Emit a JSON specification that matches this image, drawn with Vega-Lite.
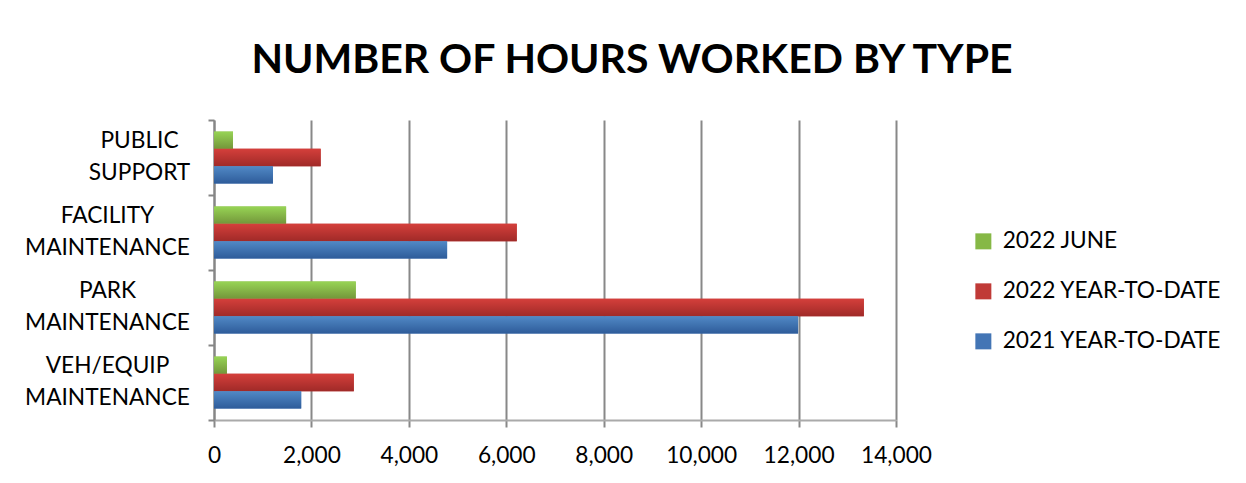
{
  "$schema": "https://vega.github.io/schema/vega-lite/v6.json",
  "autosize": "none",
  "width": 682,
  "height": 300,
  "padding": {"left": 214, "top": 120, "right": 350, "bottom": 63},
  "background": "white",
  "title": {
    "text": "NUMBER OF HOURS WORKED BY TYPE",
    "font": "Lato",
    "fontSize": 41,
    "fontWeight": "bold",
    "color": "#000000",
    "anchor": "middle",
    "frame": "group",
    "baseline": "alphabetic",
    "offset": 47,
    "dx": 77,
    "dy": 52
  },
  "data": {
    "values": [
      {"category": "PUBLIC SUPPORT", "series": "2022 JUNE", "hours": 390},
      {"category": "PUBLIC SUPPORT", "series": "2022 YEAR-TO-DATE", "hours": 2190},
      {"category": "PUBLIC SUPPORT", "series": "2021 YEAR-TO-DATE", "hours": 1210},
      {"category": "FACILITY MAINTENANCE", "series": "2022 JUNE", "hours": 1480},
      {"category": "FACILITY MAINTENANCE", "series": "2022 YEAR-TO-DATE", "hours": 6215},
      {"category": "FACILITY MAINTENANCE", "series": "2021 YEAR-TO-DATE", "hours": 4785},
      {"category": "PARK MAINTENANCE", "series": "2022 JUNE", "hours": 2910},
      {"category": "PARK MAINTENANCE", "series": "2022 YEAR-TO-DATE", "hours": 13340},
      {"category": "PARK MAINTENANCE", "series": "2021 YEAR-TO-DATE", "hours": 11990},
      {"category": "VEH/EQUIP MAINTENANCE", "series": "2022 JUNE", "hours": 265},
      {"category": "VEH/EQUIP MAINTENANCE", "series": "2022 YEAR-TO-DATE", "hours": 2870},
      {"category": "VEH/EQUIP MAINTENANCE", "series": "2021 YEAR-TO-DATE", "hours": 1790}
    ]
  },
  "encoding": {
    "y": {
      "field": "category",
      "type": "nominal",
      "sort": ["PUBLIC SUPPORT", "FACILITY MAINTENANCE", "PARK MAINTENANCE", "VEH/EQUIP MAINTENANCE"],
      "scale": {"paddingInner": 0, "paddingOuter": 0},
      "axis": {
        "title": null,
        "tickBand": "extent",
        "tickSize": 6,
        "tickColor": "#868686",
        "tickWidth": 2,
        "domainColor": "#868686",
        "domainWidth": 2,
        "labelFont": "Lato",
        "labelFontSize": 22.7,
        "labelColor": "#000000",
        "labelAlign": "center",
        "labelBaseline": "middle",
        "labelLineHeight": 32,
        "labelOffset": -17,
        "labelPadding": {"expr": "datum.value == 'PUBLIC SUPPORT' ? 69 : 101"},
        "labelExpr": "datum.value ? split(datum.value, ' ') : ''",
        "grid": false,
        "labelLimit": 300
      }
    },
    "yOffset": {
      "field": "series",
      "type": "nominal",
      "sort": ["2022 JUNE", "2022 YEAR-TO-DATE", "2021 YEAR-TO-DATE"],
      "scale": {"paddingInner": 0, "paddingOuter": 0.67}
    },
    "x": {
      "field": "hours",
      "type": "quantitative",
      "scale": {"domain": [0, 14000], "nice": false},
      "axis": {
        "title": null,
        "values": [0, 2000, 4000, 6000, 8000, 10000, 12000, 14000],
        "format": ",.0f",
        "grid": true,
        "gridColor": "#888888",
        "gridWidth": 2,
        "tickSize": 7,
        "tickColor": "#888888",
        "tickWidth": 2,
        "domainColor": "#aaaaaa",
        "domainWidth": 2,
        "labelFont": "Lato",
        "labelFontSize": 22.7,
        "labelColor": "#000000",
        "labelPadding": 17,
        "labelFlush": false
      }
    }
  },
  "layer": [
    {
      "mark": {"type": "bar", "cornerRadius": 0},
      "encoding": {
        "color": {
          "field": "series",
          "type": "nominal",
          "sort": ["2022 JUNE", "2022 YEAR-TO-DATE", "2021 YEAR-TO-DATE"],
          "scale": {
            "domain": ["2022 JUNE", "2022 YEAR-TO-DATE", "2021 YEAR-TO-DATE"],
            "range": ["#86b846", "#c03a37", "#4375b5"]
          },
          "legend": {
            "title": null,
            "orient": "none",
            "legendX": 758,
            "legendY": 110,
            "padding": 0,
            "symbolType": "square",
            "symbolSize": 256,
            "symbolStrokeWidth": 0,
            "symbolOpacity": 1,
            "labelFont": "Lato",
            "labelFontSize": 22.7,
            "labelColor": "#000000",
            "labelOffset": 8,
            "rowPadding": 26,
            "labelLimit": 400
          }
        }
      }
    },
    {
      "mark": {"type": "bar"},
      "encoding": {
        "fill": {
          "condition": [
            {"test": "datum.series == '2022 JUNE'", "value": {"gradient": "linear", "x1": 0, "y1": 0, "x2": 0, "y2": 1, "stops": [{"offset": 0, "color": "#97d455"}, {"offset": 1, "color": "#73963a"}]}},
            {"test": "datum.series == '2022 YEAR-TO-DATE'", "value": {"gradient": "linear", "x1": 0, "y1": 0, "x2": 0, "y2": 1, "stops": [{"offset": 0, "color": "#d43f3b"}, {"offset": 1, "color": "#a02a28"}]}}
          ],
          "value": {"gradient": "linear", "x1": 0, "y1": 0, "x2": 0, "y2": 1, "stops": [{"offset": 0, "color": "#5189c6"}, {"offset": 1, "color": "#2e5c9a"}]}
        }
      }
    }
  ],
  "config": {
    "view": {"stroke": null},
    "axis": {"labelFont": "Lato"}
  }
}
